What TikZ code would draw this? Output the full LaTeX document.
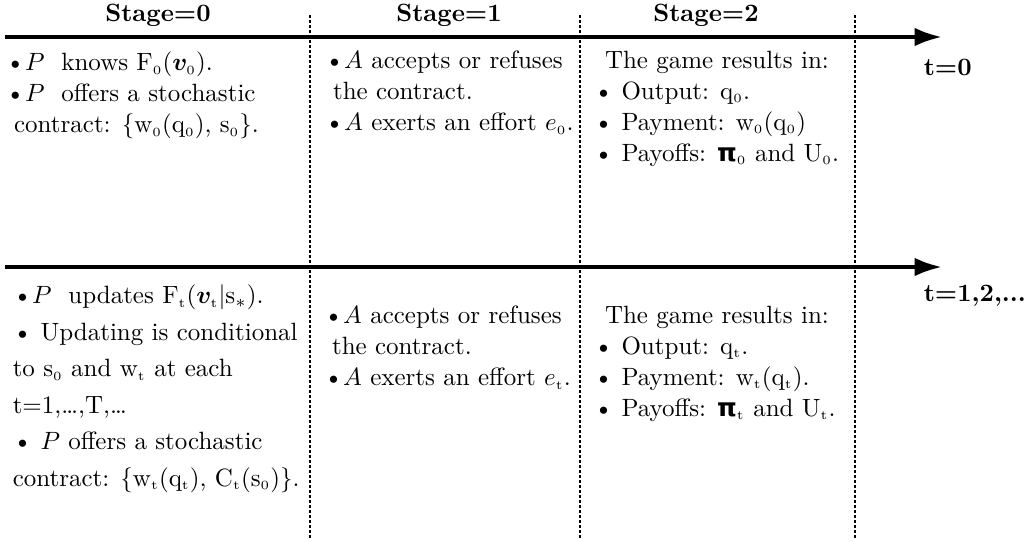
\documentclass[tikz,border=0pt]{standalone}
\usepackage{amssymb}
\usepackage{amsmath}
\usepackage{bm}
\usepackage{fontspec}
\newfontfamily\grk{DejaVu Sans}
\usepackage{tikz}
\usetikzlibrary{positioning, arrows.meta}

\newcommand{\gpi}{{\grk\bfseries π}}
\newcommand{\ix}[1]{\ensuremath{_{\scriptscriptstyle\mathrm{#1}}}}

\begin{document}
\begin{tikzpicture}[x=0.4pt, y=-0.4pt, semithick,
                    timeline/.style={line width=1.6pt, -{Latex[length=11pt,width=7.5pt]}},
                    divider/.style={line width=0.7pt, dash pattern=on 1pt off 1pt},
                    stage/.style={font=\bfseries, inner sep=0pt},
                    cell/.style={anchor=north west, align=left, inner sep=0pt, font=\fontsize{10}{12.4}\selectfont}]

    \useasboundingbox (0,0) rectangle (1030,541);

    % stage headers
    \node [stage] (st0) at (158,15) {Stage=0};
    \node [stage] (st1) at (449,15) {Stage=1};
    \node [stage] (st2) at (706,15) {Stage=2};

    % time lines
    \coordinate (t0-start) at (5,37);
    \coordinate (t0-end)   at (942,37);
    \coordinate (t1-start) at (5,267);
    \coordinate (t1-end)   at (942,267);
    \draw [timeline] (t0-start) -- (t0-end);
    \draw [timeline] (t1-start) -- (t1-end);

    \node [stage, anchor=west] (t0-txt) at (923,67)  {t=0};
    \node [stage, anchor=west] (t1-txt) at (923,296) {t=1,2,...};

    % stage borders
    \foreach \name/\x in {a/310, b/580, c/855}{
        \coordinate (\name-top) at (\x,15);
        \coordinate (\name-bot) at (\x,538);
        \draw [divider] (\name-top) -- (\name-bot);
    }

    % t=0
    \node [cell] (p0) at (5,51)
        {\textbullet$P$\ \ knows F\ix{0}$(\bm{v}\ix{0})$.\\
         \textbullet$P$\ \ offers a stochastic\\
         \ contract: \{w\ix{0}(q\ix{0}), s\ix{0}\}.};
    \node [cell] (a0) at (324,50)
        {\textbullet$A$ accepts or refuses\\
         \ the contract.\\
         \textbullet$A$ exerts an effort $e\ix{0}$.};
    \node [cell] (g0) at (593,50)
        {\hspace*{4.5pt}The game results in:\\
         \textbullet{} Output: q\ix{0}.\\
         \textbullet{} Payment: w\ix{0}(q\ix{0})\\
         \textbullet{} Payoffs: \gpi\ix{0} and U\ix{0}.};

    % t=1,2,...
    \node [cell, font=\fontsize{10}{14.6}\selectfont] (p1) at (12,284)
        {\textbullet$P$\ \ updates F\ix{t}$(\bm{v}\ix{t}|$s$_*$).\\
         \textbullet{} Updating is conditional\\
         to s\ix{0} and w\ix{t} at each\\
         t=1,\ldots,T,\ldots\\
         \textbullet{} $P$ offers a stochastic\\
         contract: \{w\ix{t}(q\ix{t}), C\ix{t}(s\ix{0})\}.};
    \node [cell] (a1) at (323,305)
        {\textbullet$A$ accepts or refuses\\
         \ the contract.\\
         \textbullet$A$ exerts an effort $e\ix{t}$.};
    \node [cell] (g1) at (593,305)
        {\hspace*{4.5pt}The game results in:\\
         \textbullet{} Output: q\ix{t}.\\
         \textbullet{} Payment: w\ix{t}(q\ix{t}).\\
         \textbullet{} Payoffs: \gpi\ix{t} and U\ix{t}.};

\end{tikzpicture}
\end{document}
